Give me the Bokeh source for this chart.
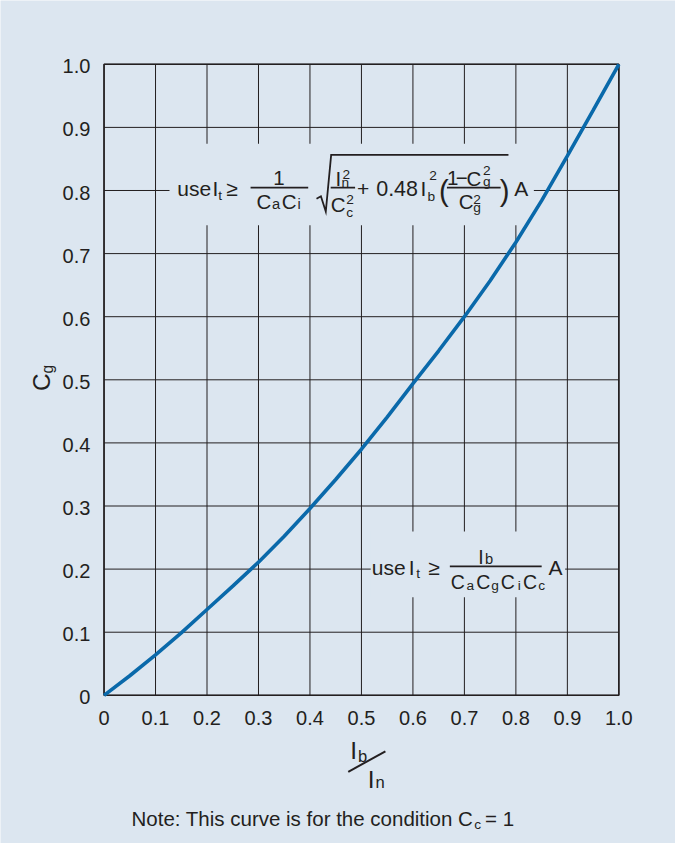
from math import pi
from bokeh.plotting import figure
from bokeh.models import Range1d
from bokeh.core.properties import value
from bokeh.embed import file_html
from bokeh.resources import INLINE

# ---------------- data ----------------
ratio = [0, 0.05, 0.1, 0.15, 0.2, 0.25, 0.3, 0.35, 0.4, 0.45, 0.5,
         0.55, 0.6, 0.65, 0.7, 0.75, 0.8, 0.85, 0.9, 0.95, 1.0]
cg = [0, 0.031, 0.064, 0.099, 0.136, 0.173, 0.211, 0.252, 0.296, 0.342, 0.390,
      0.441, 0.494, 0.546, 0.600, 0.657, 0.718, 0.784, 0.855, 0.927, 1.0]

x_ticks = [0, 0.1, 0.2, 0.3, 0.4, 0.5, 0.6, 0.7, 0.8, 0.9, 1.0]
x_tick_labels = ["0", "0.1", "0.2", "0.3", "0.4", "0.5", "0.6", "0.7", "0.8", "0.9", "1.0"]
y_ticks = [0, 0.1, 0.2, 0.3, 0.4, 0.5, 0.6, 0.7, 0.8, 0.9, 1.0]
y_tick_labels = ["0", "0.1", "0.2", "0.3", "0.4", "0.5", "0.6", "0.7", "0.8", "0.9", "1.0"]

# ---------------- style ----------------
BG = "#dce6f0"
INK = "#231f20"
BLUE = "#0a69aa"
FONT = "Liberation Sans"
W, H = 675, 843
FS = W / 691.0            # font scale (layout measured on a 691 x 859 sheet)
MID = 0.29                # baseline -> middle offset (em)
TICK = 20.5

# plot box position on the measured sheet (pixels)
BX0, BX1, BY0, BY1 = 106, 633, 708, 65


def dx(px):
    return (px - BX0) / (BX1 - BX0)


def dy(py):
    return (BY0 - py) / (BY0 - BY1)


p = figure(width=W, height=H, x_range=Range1d(dx(0), dx(691)), y_range=Range1d(dy(859), dy(0)),
           x_axis_type=None, y_axis_type=None,
           output_backend="svg", toolbar_location=None, min_border=0,
           background_fill_color=BG, border_fill_color=BG, outline_line_color=None)

# grid lines of the chart box
p.segment(x0=x_ticks, y0=0, x1=x_ticks, y1=1, line_color=INK, line_width=1)
p.segment(x0=0, y0=y_ticks, x1=1, y1=y_ticks, line_color=INK, line_width=1)

# boxes behind the two formulas (hide the grid)
p.quad(left=[dx(173), dx(379)], right=[dx(546), dx(578)],
       bottom=[dy(229), dy(608)], top=[dy(146), dy(541)],
       fill_color=BG, line_color=None)

# outer border of the chart box
p.quad(left=0, right=1, bottom=0, top=1, fill_color=None, line_color=INK, line_width=1.6)

# the curve
p.line(ratio, cg, line_color=BLUE, line_width=3.6)


def seg(pts, w=1.8):
    p.line([dx(a) for a, b in pts], [dy(b) for a, b in pts],
           line_color=INK, line_width=w, line_join="miter")


def txt(s, px, base, size, align="left", angle=0.0):
    """place text s with its left/centre at px and its baseline at base (sheet px)."""
    if angle == 0.0:
        x, y = dx(px), dy(base - MID * size)
    else:  # rotated 90 deg: 'base' is the baseline x, px is the start y
        x, y = dx(base - MID * size), dy(px)
    p.text(x=[x], y=[y], text=[s], text_font=value(FONT),
           text_font_size=value(f"{size * FS:.1f}px"), text_color=INK,
           text_baseline="middle", text_align=align, angle=angle)


# ---------------- tick labels ----------------
p.text(x=x_ticks, y=[dy(737.5 - MID * TICK)] * len(x_ticks), text=x_tick_labels,
       text_font=value(FONT), text_font_size=value(f"{TICK * FS:.1f}px"), text_color=INK,
       text_align="center", text_baseline="middle")
p.text(x=[dx(92)] * len(y_ticks), y=[t - (8.0 - MID * TICK) / (BY0 - BY1) for t in y_ticks],
       text=y_tick_labels,
       text_font=value(FONT), text_font_size=value(f"{TICK * FS:.1f}px"), text_color=INK,
       text_align="right", text_baseline="middle")

# ---------------- upper formula ----------------
txt("use", 181, 198, 21.5)
txt("I", 217, 198, 21.5)
txt("t", 223, 203, 14)
txt("\u2265", 231, 198, 21.5)
seg([(256, 190.7), (315, 190.7)])
txt("1", 285, 187, 21, align="center")
txt("C", 262, 211, 21)
txt("a", 278, 212, 15)
txt("C", 288, 211, 21)
txt("i", 304, 212, 15)
seg([(323.5, 202), (328, 199.5), (333, 215), (338.5, 157.3), (520, 157.3)])
seg([(338, 190.7), (363, 190.7)])
txt("I", 343, 187, 21)
txt("2", 350, 181.5, 14)
txt("n", 349, 189.5, 14)
txt("C", 338, 214, 21)
txt("2", 354, 207, 14)
txt("c", 354, 220, 14)
txt("+", 365, 198, 21.5)
txt("0.48", 406, 198, 22, align="center")
txt("I", 430, 198, 21.5)
txt("b", 437, 203.5, 14)
txt("2", 439, 182, 14)
txt("(", 449, 202, 30)
seg([(457, 190.7), (512, 190.7)])
txt("1", 457, 187, 21)
txt("\u2212", 466, 187, 21)
txt("C", 477, 187, 21)
txt("2", 494, 177, 14)
txt("g", 494, 189, 14)
txt("C", 469, 211, 21)
txt("2", 484, 207, 14)
txt("g", 484, 215, 14)
txt(")", 511, 202, 30)
txt("A", 526, 198, 21.5)

# ---------------- lower formula ----------------
txt("use", 380, 584, 21.5)
txt("I", 418, 584, 21.5)
txt("t", 425.5, 587.5, 14)
txt("\u2265", 438, 584, 21.5)
seg([(460, 576.7), (554, 576.7)])
txt("I", 489, 573, 20)
txt("b", 496, 573.5, 15)
txt("C", 461, 598, 20)
txt("a", 477, 600, 14)
txt("C", 487, 598, 20)
txt("g", 502.5, 600, 14)
txt("C", 512, 598, 20)
txt("i", 529.5, 600, 14)
txt("C", 535, 598, 20)
txt("c", 550.5, 600.5, 14)
txt("A", 561, 584, 21.5)

# ---------------- axis titles ----------------
txt("C", 398, 49, 25, angle=pi / 2)
txt("g", 380, 53, 16, angle=pi / 2)

txt("I", 358, 771, 25)
txt("b", 366, 775, 17)
seg([(356, 786), (394, 765)], w=2)
txt("I", 376, 801, 25)
txt("n", 384, 802, 17)

# ---------------- note ----------------
txt("Note: This curve is for the condition C", 484, 840, 21, align="right")
txt("c", 485, 844, 14)
txt("= 1", 496, 840, 21)

open("out.html", "w").write(file_html(p, INLINE))
